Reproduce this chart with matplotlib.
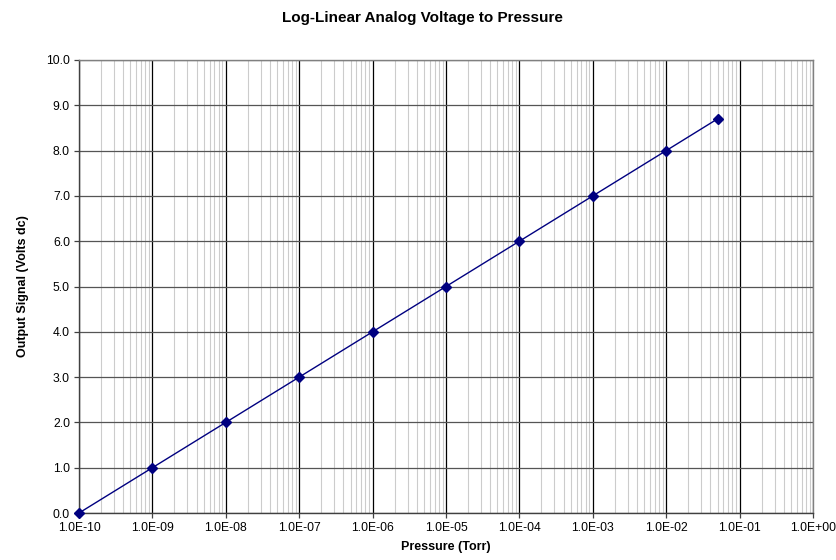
import numpy as np
import matplotlib.pyplot as plt
from matplotlib.ticker import FixedLocator, FuncFormatter, NullFormatter

plt.rcParams['font.family'] = ['Liberation Sans', 'DejaVu Sans']

pressure = [1e-10, 1e-9, 1e-8, 1e-7, 1e-6, 1e-5, 1e-4, 1e-3, 1e-2, 5e-2]
voltage = [0.0, 1.0, 2.0, 3.0, 4.0, 5.0, 6.0, 7.0, 8.0, 8.7]

decades = 10.0 ** np.arange(-10, 1)
minor = [d * m for d in decades[:-1] for m in range(2, 10)]

fig = plt.figure(figsize=(8.37, 5.6), dpi=100)
ax = fig.add_axes([79 / 837, 1 - 513 / 560, (813 - 79) / 837, (513 - 60) / 560])

ax.set_xscale('log')
ax.set_xlim(1e-10, 1.0)
ax.set_ylim(0, 10)

ax.xaxis.set_major_locator(FixedLocator(decades))
ax.xaxis.set_minor_locator(FixedLocator(minor))
ax.xaxis.set_major_formatter(FuncFormatter(lambda v, p: '%.1E' % v))
ax.xaxis.set_minor_formatter(NullFormatter())
ax.yaxis.set_major_locator(FixedLocator(np.arange(0, 10.5, 1.0)))
ax.yaxis.set_major_formatter(FuncFormatter(lambda v, p: '%.1f' % v))

ax.grid(which='minor', axis='x', color='#cccccc', lw=0.8)
ax.grid(which='major', axis='x', color='black', lw=0.9)
ax.grid(which='major', axis='y', color='#555555', lw=0.9)
ax.set_axisbelow(True)

ax.plot(pressure, voltage, color='#000080', lw=1.0, marker='D', ms=4.8,
        mfc='#000080', mec='#000080', clip_on=False, zorder=3)

for s in ax.spines.values():
    s.set_color('#808080')
    s.set_linewidth(1.0)
ax.spines['left'].set_color('#404040')
ax.spines['bottom'].set_color('#404040')

ax.tick_params(axis='both', which='major', labelsize=8.7, length=3.5, width=0.9,
               color='#404040', pad=3)
ax.tick_params(axis='x', which='minor', length=0)

# title sits centred on the figure, not the axes
fig.text(422 / 837, 1 - 22 / 560, 'Log-Linear Analog Voltage to Pressure',
         fontsize=11, fontweight='bold', ha='center', va='baseline')
ax.set_xlabel('Pressure (Torr)', fontsize=9, fontweight='bold', labelpad=5)
ax.set_ylabel('Output Signal (Volts dc)', fontsize=9, fontweight='bold', labelpad=12)

fig.savefig('out.png', dpi=100)
